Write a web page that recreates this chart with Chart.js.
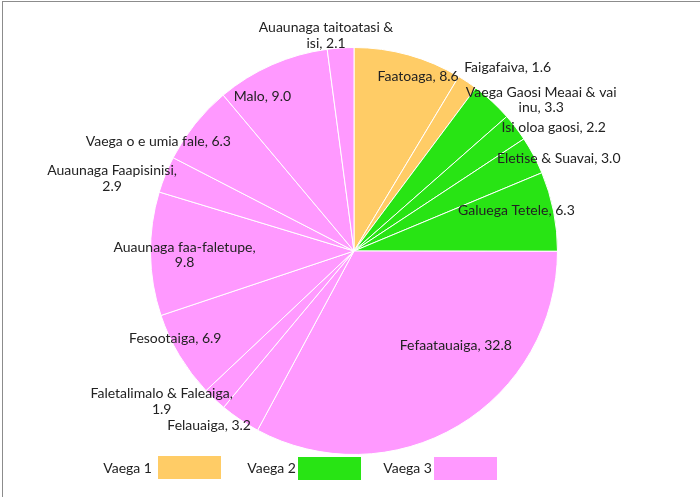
<!DOCTYPE html>
<html>
<head>
<meta charset="utf-8">
<script src="https://cdn.jsdelivr.net/npm/chart.js@4/dist/chart.umd.min.js"></script>
<style>
  html, body { margin: 0; padding: 0; background: #fff; }
  #wrap { position: relative; width: 700px; height: 497px; overflow: hidden; }
  #frame { position: absolute; left: 2px; top: 1px; right: -5px; bottom: -5px; border-top: 1px solid #8c8c8c; border-left: 1px solid #8c8c8c; }
  #chart { position: absolute; left: 0; top: 0; }
  .leg { position: absolute; font: 14px Lato, "Open Sans", sans-serif; color: #222; }
  .leg span { position: absolute; white-space: nowrap; text-align: right; width: 80px; }
  .leg i { position: absolute; display: block; }
</style>
</head>
<body>
<div id="wrap">
  <canvas id="chart" width="700" height="497"></canvas>
  <div id="frame"></div>
  <div id="legend"></div>
</div>
<script>
const categories = [
  'Faatoaga', 'Faigafaiva', 'Vaega Gaosi Meaai & vai inu', 'Isi oloa gaosi',
  'Eletise & Suavai', 'Galuega Tetele', 'Fefaatauaiga', 'Felauaiga',
  'Faletalimalo & Faleaiga', 'Fesootaiga', 'Auaunaga faa-faletupe',
  'Auaunaga Faapisinisi', 'Vaega o e umia fale', 'Malo', 'Auaunaga taitoatasi & isi'
];
const shares = [8.6, 1.6, 3.3, 2.2, 3.0, 6.3, 32.8, 3.2, 1.9, 6.9, 9.8, 2.9, 6.3, 9.0, 2.1];
const groupOf = [0, 0, 1, 1, 1, 1, 2, 2, 2, 2, 2, 2, 2, 2, 2];
const groupNames = ['Vaega 1', 'Vaega 2', 'Vaega 3'];

const groupColors = ['#FFCC66', '#28E414', '#FF99FF'];

// label placement: angle shift from slice middle (deg), distance as fraction of radius,
// and how many words go on the first line (0 = single line)
const labelShift = [4.7, 6.1, 8.4, 5.7, 3.8, -2.9, -16.3, 5.7, 8.7, 4.8, -0.6, -5.4, -9.3, -6.8, -3.6];
const labelDist = [0.913, 1.175, 1.182, 1.153, 1.103, 0.823, 0.683, 1.113, 1.2, 0.978, 0.833, 1.241, 1.103, 0.884, 1.069];
const labelBreak = [0, 0, 5, 0, 0, 0, 0, 0, 3, 0, 2, 2, 0, 0, 3];

const sliceLabels = {
  id: 'sliceLabels',
  afterDatasetsDraw(chart) {
    const ctx = chart.ctx;
    const meta = chart.getDatasetMeta(0);
    ctx.save();
    ctx.font = '14px Lato, "Open Sans", sans-serif';
    ctx.fillStyle = '#222';
    ctx.textAlign = 'center';
    ctx.textBaseline = 'middle';
    meta.data.forEach((arc, i) => {
      const p = arc.getProps(['x', 'y', 'startAngle', 'endAngle', 'outerRadius'], true);
      const a = (p.startAngle + p.endAngle) / 2 + labelShift[i] * Math.PI / 180;
      const r = p.outerRadius * labelDist[i];
      const x = p.x + Math.cos(a) * r;
      const y = p.y + Math.sin(a) * r;
      const words = (categories[i] + ', ' + shares[i].toFixed(1)).split(' ');
      const lines = labelBreak[i] ? [words.slice(0, labelBreak[i]).join(' '), words.slice(labelBreak[i]).join(' ')] : [words.join(' ')];
      const lh = 15.5;
      lines.forEach((ln, k) => {
        ctx.fillText(ln, x, y + (k - (lines.length - 1) / 2) * lh);
      });
    });
    ctx.restore();
  }
};

new Chart(document.getElementById('chart'), {
  type: 'pie',
  data: {
    labels: categories,
    datasets: [{
      data: shares,
      backgroundColor: groupOf.map((g) => groupColors[g]),
      borderColor: '#ffffff',
      borderWidth: 1
    }]
  },
  options: {
    responsive: false,
    animation: false,
    layout: { padding: { top: 47, bottom: 42, left: 8, right: 0 } },
    plugins: { legend: { display: false }, tooltip: { enabled: false } }
  },
  plugins: [sliceLabels]
});

// legend: text then colour box, as in the reference
const legendTextEnd = [152, 296, 432];
const legendBox = [158, 298, 434];
const legendEl = document.getElementById('legend');
legendEl.innerHTML = groupNames.map((name, g) => `
  <div class="leg">
    <span style="left:${legendTextEnd[g] - 80}px; top:459px">${name}</span>
    <i style="left:${legendBox[g]}px; top:${g === 0 ? 456 : 457}px; width:63px; height:23px; background:${groupColors[g]}"></i>
  </div>`).join('');
</script>
</body>
</html>
